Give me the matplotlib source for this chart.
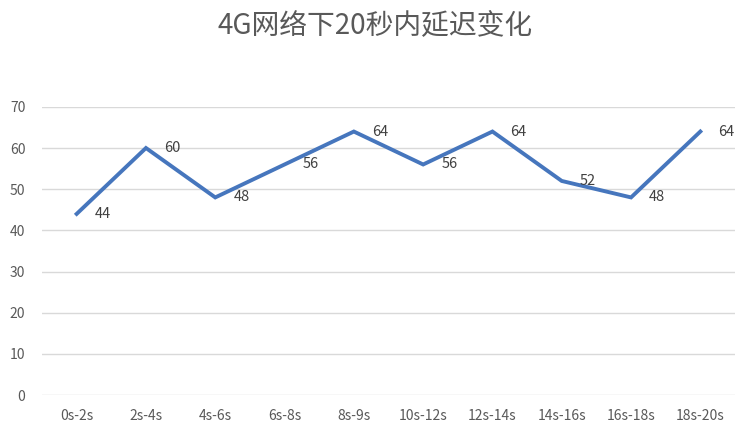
import numpy as np
import matplotlib
matplotlib.use("Agg")
import matplotlib.pyplot as plt

plt.rcParams['font.family'] = ['Noto Sans CJK SC', 'DejaVu Sans']

# data
categories = ['0s-2s', '2s-4s', '4s-6s', '6s-8s', '8s-9s',
              '10s-12s', '12s-14s', '14s-16s', '16s-18s', '18s-20s']
delay = [44, 60, 48, 56, 64, 56, 64, 52, 48, 64]
yticks = [0, 10, 20, 30, 40, 50, 60, 70]
title = '4G网络下20秒内延迟变化'

fig = plt.figure(figsize=(7.5, 4.29), dpi=100)
ax = fig.add_axes([0.056, 0.079, 0.924, 0.672])

x = np.arange(len(categories))
ax.plot(x, delay, color='#4676BD', linewidth=2.8, solid_joinstyle='miter', zorder=3)

for xi, v in zip(x, delay):
    ax.annotate(str(v), (xi, v), xytext=(13, 0), textcoords='offset points',
                ha='left', va='center', fontsize=10.5, color='#404040')

ax.set_xlim(-0.5, len(categories) - 0.5)
ax.set_ylim(0, 70)
ax.set_yticks(yticks)
ax.set_xticks(x)
ax.set_xticklabels(categories)
ax.grid(axis='y', color='#d9d9d9', linewidth=1)
ax.set_axisbelow(True)
for s in ax.spines.values():
    s.set_visible(False)
ax.tick_params(axis='both', length=0, colors='#595959', labelsize=10)
ax.tick_params(axis='x', pad=10)
ax.tick_params(axis='y', pad=12)

fig.text(0.5, 0.94, title, ha='center', va='center', fontsize=20, color='#595959')

fig.savefig('out.png', dpi=100)
